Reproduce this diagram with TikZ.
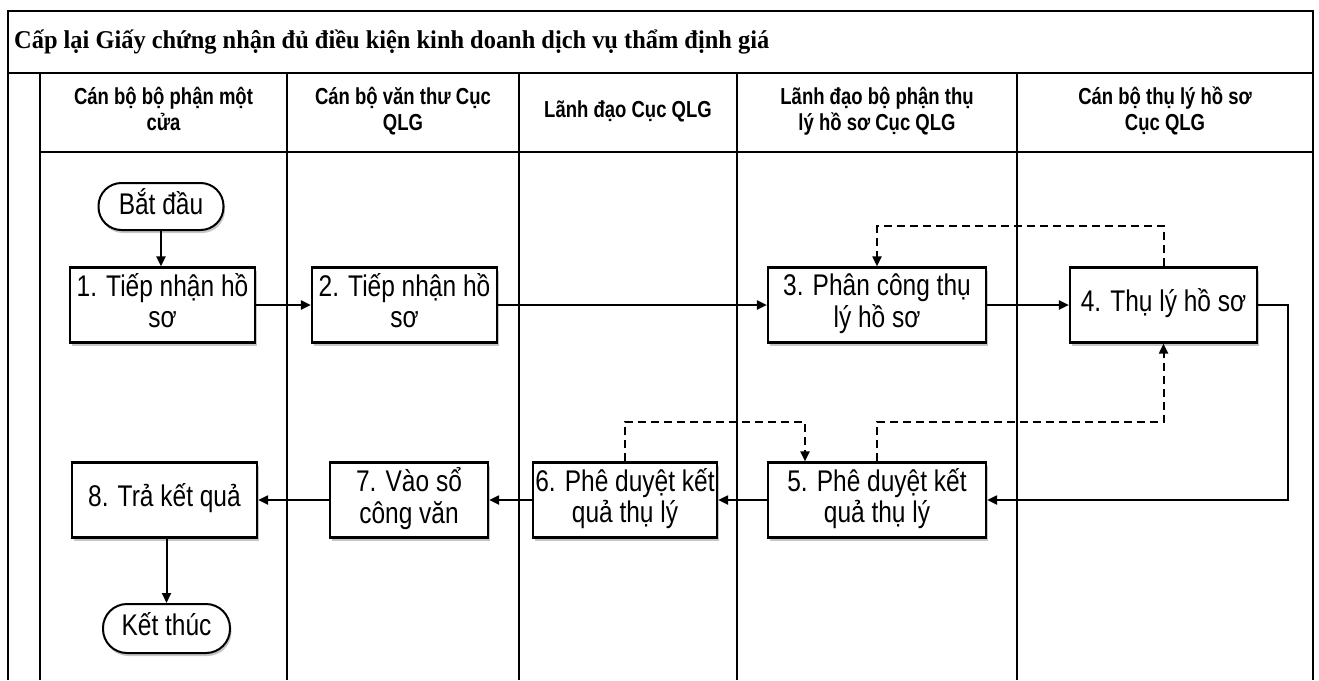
\documentclass[tikz,border=0pt]{standalone}
\usepackage{fontspec}
\usepackage{graphicx}
\setmainfont{Liberation Sans}
\newfontfamily\titlefont{Liberation Serif}
\usetikzlibrary{arrows.meta,shadows}
\newcommand{\vs}[2][1.22]{\scalebox{1}[#1]{\begin{tabular}{@{}c@{}}#2\end{tabular}}}
\begin{document}
\begin{tikzpicture}[x=1pt,y=-1pt,
  frame/.style={line width=2pt},
  lane/.style={line width=1.6pt},
  proc/.style={draw,line width=2.2pt,fill=white,minimum height=75pt,align=center,
    font=\fontsize{24.5}{25.5}\selectfont,inner sep=2pt,
    drop shadow={shadow xshift=1.5pt,shadow yshift=-3pt,fill=gray!45,opacity=1}},
  term/.style={draw,line width=2pt,fill=white,rounded corners=23pt,minimum width=125pt,
    minimum height=47pt,font=\fontsize{24.5}{25.5}\selectfont,inner sep=2pt,
    drop shadow={shadow xshift=1.5pt,shadow yshift=-3pt,fill=gray!45,opacity=1}},
  hdr/.style={align=center,font=\bfseries\fontsize{18.5}{21}\selectfont},
  conn/.style={line width=2pt,-{Triangle[length=10pt,width=9pt]}},
  dconn/.style={conn,dash pattern=on 8pt off 5pt}
]
\useasboundingbox (0,0) rectangle (1319,680);
% frame and lanes
\draw[frame] (8,680) -- (8,11) -- (1313,11) -- (1313,680);
\draw[frame] (8,73) -- (1313,73);
\draw[lane] (40,73) -- (40,680);
\draw[lane] (40,152) -- (1313,152);
\foreach \x in {287,519,737,1017} \draw[lane] (\x,73) -- (\x,680);
% title
\node[anchor=west,font=\titlefont\bfseries\fontsize{24.4}{28}\selectfont,inner sep=0pt] (title) at (14,42)
  {\scalebox{1}[1.05]{Cấp lại Giấy chứng nhận đủ điều kiện kinh doanh dịch vụ thẩm định giá}};
% headers
\node[hdr] (h1) at (163.5,112.5) {\vs[1.25]{Cán bộ bộ phận một\\cửa}};
\node[hdr] (h2) at (403,112.5) {\vs[1.25]{Cán bộ văn thư Cục\\QLG}};
\node[hdr] (h3) at (628,112.5) {\vs[1.25]{Lãnh đạo Cục QLG}};
\node[hdr] (h4) at (877,112.5) {\vs[1.25]{Lãnh đạo bộ phận thụ\\lý hồ sơ Cục QLG}};
\node[hdr] (h5) at (1165,112.5) {\vs[1.25]{Cán bộ thụ lý hồ sơ\\Cục QLG}};
% nodes
\node[term] (s) at (161,206.5) {\vs{Bắt đầu}};
\node[proc,minimum width=185pt] (b1) at (162.5,305) {\vs{1. Tiếp nhận hồ\\sơ}};
\node[proc,minimum width=185pt] (b2) at (404.5,305) {\vs{2. Tiếp nhận hồ\\sơ}};
\node[proc,minimum width=218pt] (b3) at (877,305) {\vs{3. Phân công thụ\\lý hồ sơ}};
\node[proc,minimum width=187pt] (b4) at (1163.5,305) {\vs{4. Thụ lý hồ sơ}};
\node[proc,minimum width=218pt] (b5) at (877,500) {\vs{5. Phê duyệt kết\\quả thụ lý}};
\node[proc,minimum width=184pt] (b6) at (625,500) {\vs{6. Phê duyệt kết\\quả thụ lý}};
\node[proc,minimum width=158pt] (b7) at (409,500) {\vs{7. Vào sổ\\công văn}};
\node[proc,minimum width=185pt] (b8) at (164.5,500) {\vs{8. Trả kết quả}};
\node[term,minimum width=127pt,minimum height=49pt,rounded corners=24pt] (e) at (166.5,628.5) {\vs{Kết thúc}};
% connectors
\draw[conn] (s.south) -- (s.south |- b1.north);
\draw[conn] (b1) -- (b2);
\draw[conn] (b2) -- (b3);
\draw[conn] (b3) -- (b4);
\draw[conn] (b4.east) -- ++(30,0) |- (b5.east);
\draw[conn] (b5) -- (b6);
\draw[conn] (b6) -- (b7);
\draw[conn] (b7) -- (b8);
\draw[conn] (b8.south -| e.north) -- (e.north);
\draw[dconn] (b4.north) -- ++(0,-40) -| (b3.north);
\draw[dconn] (b5.north) -- ++(0,-39) -| (b4.south);
\coordinate (b5in) at ([xshift=-72pt]b5.north);
\draw[dconn] (b6.north) -- ++(0,-39) -| (b5in);
\end{tikzpicture}
\end{document}
